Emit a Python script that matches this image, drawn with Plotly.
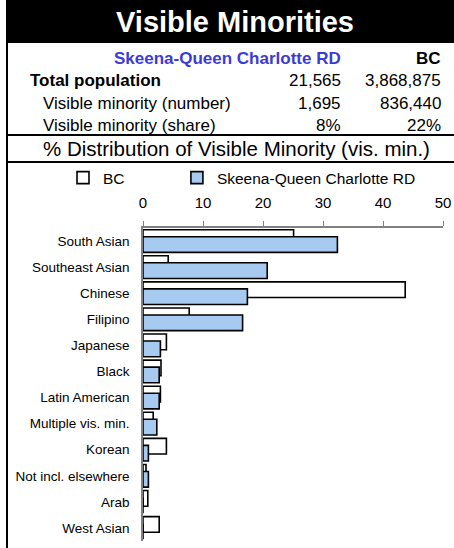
import plotly.graph_objects as go

W, H = 454, 548
FONT = "Liberation Sans, Arial, sans-serif"

# data
categories = ["South Asian", "Southeast Asian", "Chinese", "Filipino", "Japanese",
              "Black", "Latin American", "Multiple vis. min.", "Korean",
              "Not incl. elsewhere", "Arab", "West Asian"]
bc_share = [25.1, 4.2, 43.7, 7.7, 3.9, 3.0, 2.9, 1.7, 3.9, 0.5, 0.8, 2.7]
region_share = [32.4, 20.7, 17.4, 16.6, 2.9, 2.7, 2.7, 2.3, 0.9, 0.9, 0.0, 0.0]

region_name = "Skeena-Queen Charlotte RD"
row_labels = ["Total population", "Visible minority (number)", "Visible minority (share)"]
region_stats = ["21,565", "1,695", "8%"]
bc_stats = ["3,868,875", "836,440", "22%"]
x_ticks = [0, 10, 20, 30, 40, 50]


def px(x):
    return x / W


def py(y):
    return 1 - y / H


fig = go.Figure()

# trailing no-break spaces push the second legend entry to the right
fig.add_trace(go.Bar(
    y=categories, x=bc_share, orientation="h", name="BC" + "\u00a0" * 11,
    marker=dict(color="white", line=dict(color="black", width=1.6)),
    width=0.6, offset=-0.435,
))
fig.add_trace(go.Bar(
    y=categories, x=region_share, orientation="h", name=region_name,
    marker=dict(color="#a6caf0", line=dict(color="black", width=1.6)),
    width=0.6, offset=-0.165,
))

# header shapes
shapes = [
    dict(type="rect", xref="paper", yref="paper", x0=px(7), x1=1, y0=py(43), y1=1,
         fillcolor="black", line_width=0, layer="below"),
    dict(type="line", xref="paper", yref="paper", x0=px(7), x1=1, y0=py(135), y1=py(135),
         line=dict(color="black", width=2)),
    dict(type="line", xref="paper", yref="paper", x0=px(7), x1=1, y0=py(162), y1=py(162),
         line=dict(color="black", width=2)),
    dict(type="line", xref="paper", yref="paper", x0=px(7), x1=px(7), y0=0, y1=1,
         line=dict(color="black", width=2)),
]

annotations = [
    dict(text="<b>Visible Minorities</b>", x=px(235), y=py(22), xanchor="center", yanchor="middle",
         font=dict(size=29, color="white")),
    dict(text="<b>" + region_name + "</b>", x=px(343), y=py(58), xanchor="right", yanchor="middle",
         font=dict(size=17, color="#3b3bd6")),
    dict(text="<b>BC</b>", x=px(443), y=py(58), xanchor="right", yanchor="middle",
         font=dict(size=17, color="black")),
    dict(text="% Distribution of Visible Minority (vis. min.)", x=px(237), y=py(149),
         xanchor="center", yanchor="middle", font=dict(size=20.5, color="black")),
]

row_y = [80, 103, 125]
for i, lab in enumerate(row_labels):
    if i == 0:
        annotations.append(dict(text="<b>" + lab + "</b>", x=px(28), y=py(row_y[i]),
                                xanchor="left", yanchor="middle", font=dict(size=17, color="black")))
    else:
        annotations.append(dict(text=lab, x=px(41), y=py(row_y[i]),
                                xanchor="left", yanchor="middle", font=dict(size=17, color="black")))
    annotations.append(dict(text=region_stats[i], x=px(343), y=py(row_y[i]),
                            xanchor="right", yanchor="middle", font=dict(size=17, color="black")))
    annotations.append(dict(text=bc_stats[i], x=px(443), y=py(row_y[i]),
                            xanchor="right", yanchor="middle", font=dict(size=17, color="black")))

for a in annotations:
    a.update(xref="paper", yref="paper", showarrow=False)

fig.update_layout(
    width=W, height=H,
    margin=dict(l=0, r=0, t=0, b=0),
    paper_bgcolor="white", plot_bgcolor="white",
    font=dict(family=FONT, color="black"),
    barmode="overlay",
    showlegend=True,
    legend=dict(orientation="h", x=px(63), y=py(178), xanchor="left", yanchor="middle",
                font=dict(size=15.5), itemwidth=30, traceorder="normal",
                bgcolor="rgba(0,0,0,0)"),
    shapes=shapes,
    annotations=annotations,
    xaxis=dict(domain=[px(143), px(443)], range=[0, 50], side="top",
               tickvals=x_ticks, ticks="outside", ticklen=5, tickcolor="#808080",
               showline=True, linecolor="#808080", linewidth=1.5,
               showgrid=False, zeroline=False, tickfont=dict(size=15),
               ticklabelstandoff=7, fixedrange=True, automargin=False),
    yaxis=dict(domain=[py(541), py(228)], autorange="reversed",
               showline=True, linecolor="#808080", linewidth=1.5,
               showgrid=False, ticks="", tickfont=dict(size=13.5),
               ticklabelstandoff=9, fixedrange=True, automargin=False),
)

# the page body has a default 8px margin; drop it so the figure fills the window
fig.write_html("out.html", config={"displayModeBar": False},
               post_script="document.body.style.margin = '0';")
